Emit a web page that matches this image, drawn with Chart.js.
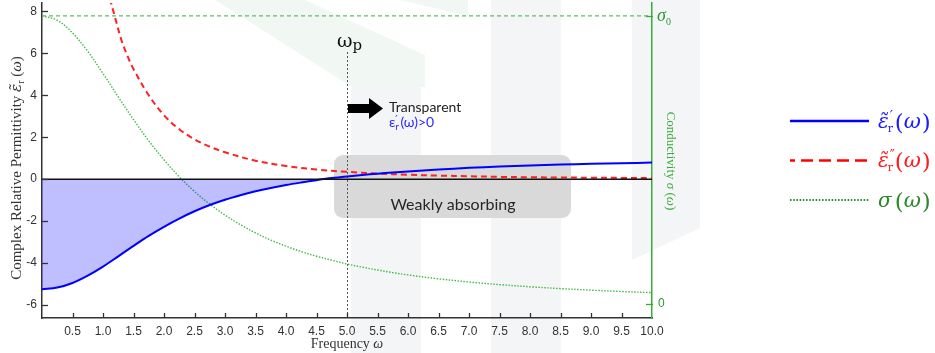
<!DOCTYPE html>
<html><head><meta charset="utf-8">
<script src="https://cdn.jsdelivr.net/npm/chart.js@4"></script>
<style>html,body{margin:0;padding:0;background:#fff}canvas{display:block}</style>
</head><body>
<canvas id="c" width="935" height="353"></canvas>
<script>
// ---- data ----
const omegaA = [0,0.25,0.5,0.75,1,1.25,1.5,1.75,2,2.25,2.5,2.75,3,3.25,3.5,3.75,4,4.25,4.5,4.75,5,5.25,5.5,5.75,6,6.5,7,7.5,8,8.5,9,9.5,10];
const epsReal = [-5.25,-5.17,-4.95,-4.60,-4.17,-3.68,-3.18,-2.70,-2.27,-1.88,-1.53,-1.23,-0.98,-0.77,-0.58,-0.42,-0.28,-0.16,-0.05,0.05,0.13,0.20,0.26,0.32,0.37,0.46,0.54,0.60,0.65,0.70,0.73,0.76,0.79];
const sigmaRel = [1.0,0.985,0.941,0.877,0.800,0.719,0.640,0.566,0.500,0.441,0.390,0.346,0.308,0.275,0.246,0.221,0.200,0.181,0.165,0.151,0.138,0.127,0.117,0.108,0.100,0.0865,0.0755,0.0664,0.0588,0.0525,0.0471,0.0424,0.0385];
const omegaB = [1.0,1.1,1.2,1.3,1.4,1.5,1.75,2.0,2.25,2.5,2.75,3.0,3.5,4.0,4.5,5.0,5.5,6.0,6.5,7.0,7.5,8.0,8.5,9.0,9.5,10.0];
const epsImag = [10.0,8.76,7.69,6.65,5.88,5.25,4.0,3.05,2.38,1.90,1.55,1.28,0.88,0.63,0.46,0.35,0.27,0.21,0.17,0.14,0.11,0.09,0.08,0.07,0.06,0.05];
const sigma0Line = [[0,1],[10,1]];
const xTicks = [0,0.5,1,1.5,2,2.5,3,3.5,4,4.5,5,5.5,6,6.5,7,7.5,8,8.5,9,9.5,10];
const yTicks = [-6,-4,-2,0,2,4,6,8];
const y2Ticks = [0,1];
const y2Labels = ['0','σ'];
const omegaP = 5;
const texts = {
  yTitle: 'Complex Relative Permittivity ',
  xTitle: 'Frequency ',
  y2Title: 'Conductivity ',
  transparent: 'Transparent',
  weak: 'Weakly absorbing'
};

const pts = (xs, ys) => xs.map((x,i)=>({x:x,y:ys[i]}));

function runsWidth(ctx, runs){
  let w=0; runs.forEach(r=>{ctx.font=r.f; w+=ctx.measureText(r.t).width + (r.sp||0);}); return w;
}
function drawRuns(ctx, runs, x, y, color, align){
  const w = runsWidth(ctx, runs);
  let cx = align==='center' ? x - w/2 : x;
  runs.forEach(r=>{
    ctx.font=r.f; ctx.fillStyle=r.c||color; ctx.textBaseline='alphabetic'; ctx.textAlign='left';
    ctx.fillText(r.t, cx, y + (r.dy||0));
    cx += ctx.measureText(r.t).width + (r.sp||0);
  });
}

const decor = {
  id:'decor',
  beforeDraw(chart){
    const c = chart.ctx;
    c.save();
    c.fillStyle='#fff'; c.fillRect(0,0,chart.width,chart.height);
    // faint watermark shapes
    c.fillStyle='rgba(236,246,239,0.75)';
    c.beginPath(); c.moveTo(215,0); c.lineTo(305,0); c.lineTo(425,55); c.lineTo(425,87); c.lineTo(352,87); c.closePath(); c.fill();
    c.beginPath(); c.moveTo(400,0); c.lineTo(468,0); c.lineTo(468,16); c.closePath(); c.fill();
    c.fillStyle='#f4f5f7';
    c.fillRect(351,87,70,266);
    c.fillRect(491,0,70,353);
    c.beginPath(); c.moveTo(632,0); c.lineTo(700,0); c.lineTo(700,228); c.lineTo(632,260); c.closePath(); c.fill();
    c.restore();
  },
  beforeDatasetsDraw(chart){
    const c = chart.ctx, xs = chart.scales.x, ca = chart.chartArea;
    c.save();
    // weakly absorbing box
    const bx=334, by=155, bw=237, bh=63, r=9;
    c.fillStyle='#d9d9d9';
    c.beginPath();
    c.moveTo(bx+r,by); c.lineTo(bx+bw-r,by); c.arcTo(bx+bw,by,bx+bw,by+r,r);
    c.lineTo(bx+bw,by+bh-r); c.arcTo(bx+bw,by+bh,bx+bw-r,by+bh,r);
    c.lineTo(bx+r,by+bh); c.arcTo(bx,by+bh,bx,by+bh-r,r);
    c.lineTo(bx,by+r); c.arcTo(bx,by,bx+r,by,r); c.closePath(); c.fill();
    c.fillStyle='#262626'; c.font='16px Lato'; c.textAlign='center'; c.textBaseline='middle';
    c.fillText(texts.weak, 453, 205);
    // omega_p dotted line
    const px = Math.round(xs.getPixelForValue(omegaP))+0.5;
    c.strokeStyle='#555'; c.lineWidth=1; c.setLineDash([2,2]);
    c.beginPath(); c.moveTo(px,52); c.lineTo(px,ca.bottom); c.stroke();
    c.setLineDash([]);
    c.restore();
  },
  afterDatasetsDraw(chart){
    const c = chart.ctx, ys = chart.scales.y, ca = chart.chartArea;
    c.save();
    const y0 = ys.getPixelForValue(0);
    c.strokeStyle='#111'; c.lineWidth=1.5;
    c.beginPath(); c.moveTo(ca.left,y0); c.lineTo(ca.right,y0); c.stroke();
    c.restore();
  },
  afterDraw(chart){
    const c = chart.ctx, xs = chart.scales.x, ys = chart.scales.y, y2 = chart.scales.y2, ca = chart.chartArea;
    c.save();
    // inward ticks
    c.strokeStyle='#333'; c.lineWidth=1.3;
    xTicks.forEach(v=>{ if(v===0||v===10) return; const p=Math.round(xs.getPixelForValue(v))+0.5; c.beginPath(); c.moveTo(p,ca.bottom); c.lineTo(p,ca.bottom-5); c.stroke(); });
    yTicks.forEach(v=>{ const p=Math.round(ys.getPixelForValue(v))+0.5; c.beginPath(); c.moveTo(ca.left,p); c.lineTo(ca.left+6,p); c.stroke(); });
    // left tick labels
    c.fillStyle='#333'; c.font='12px "Liberation Sans"'; c.textAlign='right'; c.textBaseline='middle';
    yTicks.forEach(v=>{ c.fillText(String(v), ca.left-5, ys.getPixelForValue(v)); });
    c.strokeStyle='#3aaa3a';
    y2Ticks.forEach(v=>{ const p=Math.round(y2.getPixelForValue(v))+0.5; c.beginPath(); c.moveTo(ca.right-6,p); c.lineTo(ca.right+1,p); c.stroke(); });
    // right tick labels
    c.fillStyle='#2e9a2e';
    const pS = y2.getPixelForValue(1), p0 = y2.getPixelForValue(0);
    c.textAlign='left'; c.textBaseline='alphabetic';
    c.font='italic 18px "Liberation Serif"'; c.fillText(y2Labels[1], ca.right+5, pS+5);
    const sw = c.measureText(y2Labels[1]).width;
    c.font='10px "Liberation Serif"'; c.fillText('0', ca.right+5+sw, pS+9);
    c.font='12px "Liberation Sans"'; c.textBaseline='middle'; c.fillText(y2Labels[0], ca.right+6, p0);

    // arrow
    const ax = xs.getPixelForValue(omegaP)+1;
    c.fillStyle='#000';
    c.fillRect(ax,104,22,9);
    c.beginPath(); c.moveTo(ax+21,98); c.lineTo(ax+35,108.5); c.lineTo(ax+21,119); c.closePath(); c.fill();
    c.fillStyle='#222'; c.font='14px Lato'; c.textAlign='left'; c.textBaseline='middle';
    c.fillText(texts.transparent, 389, 107);
    // blue condition text: eps' _r (omega) > 0
    {
      const bx0=389, base=127, col='#2b2bff';
      c.fillStyle=col; c.textAlign='left'; c.textBaseline='alphabetic';
      c.font='14px Lato'; c.fillText('ε', bx0, base); const ew=c.measureText('ε').width;
      c.font='11px "DejaVu Sans"'; c.fillText('′', bx0+ew, base-4);
      c.font='10px Lato'; c.fillText('r', bx0+ew, base+3); const rw=c.measureText('r').width;
      c.font='14px Lato'; c.fillText('(ω)>0', bx0+ew+rw+1.5, base);
    }

    // omega_p label
    c.fillStyle='#111';
    c.font='19px "DejaVu Serif"'; c.textAlign='left'; c.textBaseline='alphabetic';
    c.fillText('ω', 337, 47);
    const ow = c.measureText('ω').width;
    c.font='15px "DejaVu Serif"'; c.fillText('p', 337+ow, 50);

    // y title (rotated)
    c.save(); c.translate(21,168); c.rotate(-Math.PI/2);
    let yRuns = [
      {t:texts.yTitle, f:'15px "Liberation Serif"'},
      {t:'ε\u0303', f:'italic 15px "DejaVu Serif"'}, {t:'r', f:'10px "Liberation Serif"', dy:3},
      {t:' (', f:'15px "Liberation Serif"'}, {t:'ω', f:'italic 15px "Liberation Serif"'}, {t:')', f:'15px "Liberation Serif"'}
    ];
    drawRuns(c, yRuns, 0, 0, '#333', 'center');
    c.restore();
    // x title
    drawRuns(c, [{t:texts.xTitle, f:'14px "Liberation Serif"'},{t:'ω', f:'italic 14px "Liberation Serif"'}], 347, 348, '#333', 'center');
    // right title
    c.save(); c.translate(667,161); c.rotate(Math.PI/2);
    drawRuns(c, [{t:texts.y2Title, f:'13px "Liberation Serif"'},{t:'σ', f:'italic 13px "Liberation Serif"'},{t:' (', f:'13px "Liberation Serif"'},{t:'ω', f:'italic 13px "Liberation Serif"'},{t:')', f:'13px "Liberation Serif"'}], 0, 0, '#3aaa3a', 'center');
    c.restore();

    // legend
    const lx0=790, lx1=869;
    c.lineWidth=2.5; c.strokeStyle='#0000ff';
    c.beginPath(); c.moveTo(lx0,121); c.lineTo(lx1,121); c.stroke();
    c.strokeStyle='#ff0000'; c.setLineDash([12,6]); c.lineDashOffset=7;
    c.beginPath(); c.moveTo(lx0,160.5); c.lineTo(lx1,160.5); c.stroke();
    c.strokeStyle='#2f8f2f'; c.lineWidth=2; c.setLineDash([1.6,1.6]); c.lineDashOffset=0;
    c.beginPath(); c.moveTo(lx0,200); c.lineTo(lx1,200); c.stroke();
    c.setLineDash([]);
    function parenOmega(px, base, col){
      c.fillStyle=col;
      c.font='23px "DejaVu Serif"'; c.fillText('(', px, base+2); const pw=c.measureText('(').width;
      c.font='italic 21px "DejaVu Serif"'; c.fillText('ω', px+pw, base); const ww=c.measureText('ω').width;
      c.font='23px "DejaVu Serif"'; c.fillText(')', px+pw+ww+1, base+2);
    }
    function epsLabel(yc, prime, col){
      const x0=878, base=yc+7;
      c.fillStyle=col; c.textAlign='left'; c.textBaseline='alphabetic';
      c.font='italic 20px "DejaVu Serif"'; c.fillText('ε\u0303', x0, base);
      const w = c.measureText('ε').width;
      c.font='14px "DejaVu Serif"'; c.fillText(prime, x0+w+1, base-7);
      c.font='11px "DejaVu Serif"'; c.fillText('r', x0+w-1, base+4);
      parenOmega(x0+w+6, base, col);
    }
    epsLabel(121, '′', '#1a1aff');
    epsLabel(160, '″', '#ff1a1a');
    c.fillStyle='#2a8a2a'; c.font='italic 20px "DejaVu Serif"'; c.textAlign='left'; c.textBaseline='alphabetic';
    c.fillText('σ', 878, 207);
    parenOmega(878 + c.measureText('σ').width + 3, 207, '#2a8a2a');
    c.restore();
  }
};

new Chart(document.getElementById('c'), {
  type:'line',
  data:{datasets:[
    {label:'eps1', data:pts(omegaA, epsReal), yAxisID:'y', borderColor:'#0000ff', borderWidth:2, pointRadius:0,
     tension:0.35, fill:{target:{value:0}, below:'rgba(0,0,255,0.25)', above:'rgba(0,0,0,0)'}, order:1},
    {label:'eps2', data:pts(omegaB, epsImag), yAxisID:'y', borderColor:'#ff2020', borderWidth:2, borderDash:[6,4], pointRadius:0,
     tension:0.35, fill:false, order:2},
    {label:'sigma', data:pts(omegaA, sigmaRel), yAxisID:'y2', borderColor:'#44bb44', borderWidth:1.4, borderDash:[1.5,1.5], pointRadius:0,
     tension:0.35, fill:false, order:3},
    {label:'sigma0', data:sigma0Line.map(p=>({x:p[0],y:p[1]})), yAxisID:'y2', borderColor:'#66bb66', borderWidth:1.2, borderDash:[4,3], pointRadius:0, fill:false, order:4}
  ]},
  options:{
    responsive:false, animation:false, devicePixelRatio:1,
    layout:{padding:{top:3,right:253,left:0,bottom:0}},
    plugins:{legend:{display:false}, tooltip:{enabled:false}},
    scales:{
      x:{type:'linear', min:0, max:10,
         afterBuildTicks:s=>{s.ticks=xTicks.map(v=>({value:v}));},
         grid:{display:false, drawTicks:false}, border:{display:true, color:'#333', width:1.5},
         ticks:{autoSkip:false, maxRotation:0, padding:6, color:'#333', font:{family:'Liberation Sans', size:12},
                callback:v=> v===0 ? '' : Number(v).toFixed(1)},
         afterFit:s=>{s.height=35;}},
      y:{type:'linear', position:'left', min:-6.62, max:8.4,
         afterBuildTicks:s=>{s.ticks=yTicks.map(v=>({value:v}));},
         grid:{display:false, drawTicks:false}, border:{display:true, color:'#333', width:1.5},
         ticks:{display:false},
         afterFit:s=>{s.width=42;}},
      y2:{type:'linear', position:'right', min:-0.0497, max:1.045,
         grid:{display:false, drawTicks:false}, border:{display:true, color:'#3aaa3a', width:1.5},
         ticks:{display:false},
         afterFit:s=>{s.width=30;}}
    }
  },
  plugins:[decor]
});
</script>
</body></html>
